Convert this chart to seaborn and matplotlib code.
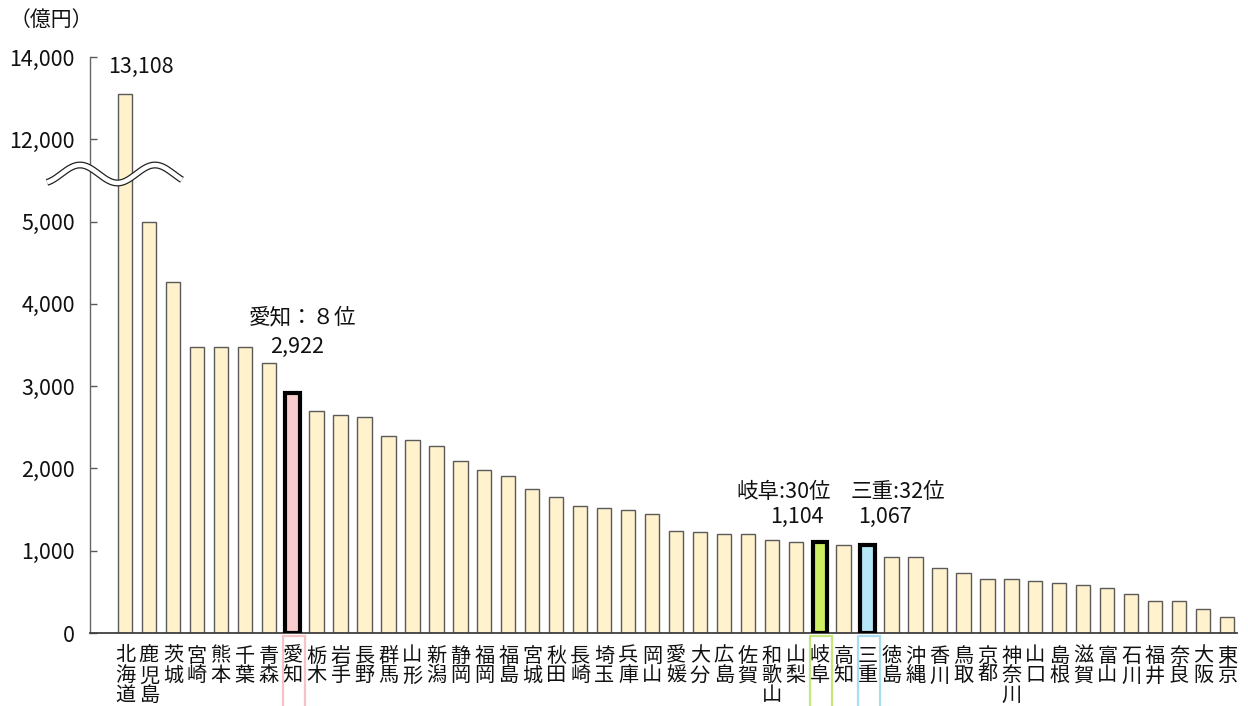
import numpy as np
import pandas as pd
import matplotlib
matplotlib.use("Agg")
import matplotlib.pyplot as plt
import matplotlib.transforms as mtransforms
from matplotlib.patches import Rectangle
from matplotlib.lines import Line2D
import seaborn as sns

# ---- data ----
prefectures = ["北海道", "鹿児島", "茨城", "宮崎", "熊本", "千葉", "青森", "愛知", "栃木", "岩手",
               "長野", "群馬", "山形", "新潟", "静岡", "福岡", "福島", "宮城", "秋田", "長崎",
               "埼玉", "兵庫", "岡山", "愛媛", "大分", "広島", "佐賀", "和歌山", "山梨", "岐阜",
               "高知", "三重", "徳島", "沖縄", "香川", "鳥取", "京都", "神奈川", "山口", "島根",
               "滋賀", "富山", "石川", "福井", "奈良", "大阪", "東京"]
values = [13108, 5000, 4270, 3475, 3475, 3470, 3280, 2922, 2695, 2650,
          2620, 2400, 2340, 2270, 2087, 1975, 1914, 1756, 1654, 1549,
          1525, 1500, 1452, 1240, 1226, 1205, 1198, 1130, 1110, 1104,
          1070, 1067, 926, 918, 792, 725, 660, 660, 635, 610,
          583, 546, 477, 392, 385, 295, 194]
highlight = {"愛知": ("#F9CDCD", "#F5C3C5", "愛知：８位"),
             "岐阜": ("#CDED62", "#C6E77C", "岐阜:30位"),
             "三重": ("#B5E7F8", "#A8DDF2", "三重:32位")}
yticks = [0, 1000, 2000, 3000, 4000, 5000, 12000, 14000]
unit_label = "（億円）"

FONT = ["Noto Sans CJK JP", "DejaVu Sans"]
sns.set_theme(style="white")
plt.rcParams["font.family"] = FONT

df = pd.DataFrame({"pref": prefectures, "value": values})
base = "#FFF2CC"
palette = {p: (highlight[p][0] if p in highlight else base) for p in prefectures}

fig = plt.figure(figsize=(12.48, 7.06), dpi=100)
ax = fig.add_axes([90 / 1248, 1 - 633 / 706, (1237 - 90) / 1248, (633 - 57) / 706])

sns.barplot(data=df, x="pref", y="value", hue="pref", palette=palette, order=prefectures,
            hue_order=prefectures, legend=False, width=0.6, ax=ax, saturation=1)

for patch, p in zip(ax.patches, prefectures):
    if p in highlight:
        patch.set_edgecolor("black")
        patch.set_linewidth(3.0)
        patch.set_zorder(3)
    else:
        patch.set_edgecolor("#5a5a5a")
        patch.set_linewidth(1.0)


# broken axis via piecewise scale
def fwd(v):
    v = np.asarray(v, dtype=float)
    return np.where(v <= 5000, v,
                    np.where(v <= 11000, 5000 + (v - 5000) * 500 / 6000, 5500 + (v - 11000) / 2))


def inv(u):
    u = np.asarray(u, dtype=float)
    return np.where(u <= 5000, u,
                    np.where(u <= 5500, 5000 + (u - 5000) * 6000 / 500, 11000 + (u - 5500) * 2))


ax.set_yscale("function", functions=(fwd, inv))
ax.set_ylim(0, 14000)
ax.set_xlim(-1.46, len(prefectures) - 1 + 0.42)
ax.set_yticks(yticks)
ax.set_yticklabels([f"{t:,}" for t in yticks])
ax.yaxis.set_minor_locator(matplotlib.ticker.NullLocator())
ax.tick_params(axis="y", direction="in", length=5, width=1, color="#595959", pad=11,
               labelsize=15.5, labelcolor="#111111", left=True)
ax.set_xticks(range(len(prefectures)))
ax.set_xticklabels(["\n".join(p) for p in prefectures], fontsize=14.5, linespacing=0.93,
                   color="#111111")
ax.tick_params(axis="x", length=0, pad=9)
ax.set_xlabel("")
ax.set_ylabel("")
for s in ["top", "right"]:
    ax.spines[s].set_visible(False)
ax.spines["left"].set_color("#666666")
ax.spines["left"].set_linewidth(1.0)
ax.spines["bottom"].set_color("#404040")
ax.spines["bottom"].set_linewidth(1.3)
ax.grid(False)

# annotations
tk = dict(ha="center", va="center", fontsize=15.5, color="#111111")
ax.text(0.67, 13750, "13,108", **tk)
ax.text(7.43, 3840, highlight["愛知"][2], **tk)
ax.text(7.18, 3475, f"{values[prefectures.index('愛知')]:,}", **tk)
ax.text(27.5, 1713, highlight["岐阜"][2], **tk)
ax.text(28.05, 1410, f"{values[prefectures.index('岐阜')]:,}", **tk)
ax.text(32.26, 1713, highlight["三重"][2], **tk)
ax.text(31.72, 1410, f"{values[prefectures.index('三重')]:,}", **tk)

# highlighted label boxes
btr = mtransforms.blended_transform_factory(ax.transData, ax.transAxes)
for p, (fill, edge, _) in highlight.items():
    i = prefectures.index(p)
    ax.add_patch(Rectangle((i - 0.4, -0.2), 0.92, 0.195, transform=btr, fill=False,
                           edgecolor=edge, linewidth=1.6, clip_on=False))

fig.text(10 / 1248, 1 - 20 / 706, unit_label, ha="left", va="center", fontsize=15,
         color="#111111")

# wave break mark
xs = np.linspace(47, 182, 200)
ys = 174 - 9 * np.cos(2 * np.pi * (xs - 80) / 75)
fx, fy = xs / 1248, 1 - ys / 706
fig.add_artist(Line2D(fx, fy, transform=fig.transFigure, color="#222222", lw=5.0,
                      solid_capstyle="butt", zorder=10))
fig.add_artist(Line2D(fx, fy, transform=fig.transFigure, color="white", lw=3.2,
                      solid_capstyle="butt", zorder=11))

fig.savefig("out.png", dpi=100, facecolor="white")
